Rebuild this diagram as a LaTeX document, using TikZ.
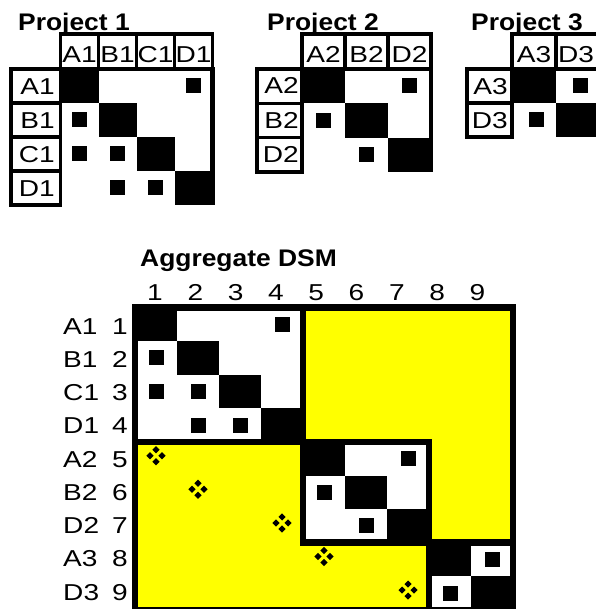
\documentclass[tikz,border=0pt]{standalone}
\usepackage{fontspec}
\setmainfont{Liberation Sans}
\usetikzlibrary{positioning}
\definecolor{dsmyellow}{RGB}{255,255,0}
\tikzset{
  lbl/.style={inner sep=0pt, xscale=1.22, font=\fontsize{23}{23}\selectfont},
  ttl/.style={inner sep=0pt, anchor=base west, xscale=1.1, font=\bfseries\fontsize{24}{24}\selectfont},
  cellbox/.style={line width=3.5pt},
  topline/.style={line width=4.5pt},
  blockbox/.style={line width=6.5pt},
}
\begin{document}
\begin{tikzpicture}[x=1pt, y=-1pt]
\useasboundingbox (0,0) rectangle (595,609);

% Project 1
\node[ttl] (p1title) at (18,31) {Project 1};
\foreach \n [count=\i from 0] in {A1,B1,C1,D1} {
  \fill (60.5+38*\i,69+34*\i) rectangle ++(38,34);
  \draw[cellbox] (60.5+38*\i,34) rectangle ++(38,35);
  \draw[cellbox] (11,69+34*\i) rectangle ++(49.5,34);
  \node[lbl, anchor=base] (p1col\n) at (79.5+38*\i,63) {\n};
  \node[lbl, anchor=base east] (p1row\n) at (55,95+34*\i) {\n};
}
\draw[topline] (11,69) -- (212.5,69) -- (212.5,205);
\foreach \r/\c in {0/3,1/0,2/0,2/1,3/1,3/2}
  \fill (72+38*\c,78.5+34*\r) rectangle ++(15,15);

% Project 2
\node[ttl] (p2title) at (267,31) {Project 2};
\foreach \n [count=\i from 0] in {A2,B2,D2} {
  \fill (302+43*\i,69+34.3*\i) rectangle ++(43,34.3);
  \draw[cellbox] (302+43*\i,34) rectangle ++(43,35);
  \draw[cellbox] (257,69+34.3*\i) rectangle ++(45,34.3);
  \node[lbl, anchor=base] (p2col\n) at (323.5+43*\i,63) {\n};
  \node[lbl, anchor=base east] (p2row\n) at (299,94+34.3*\i) {\n};
}
\draw[topline] (257,69) -- (431,69) -- (431,172);
\foreach \r/\c in {0/2,1/0,2/1}
  \fill (316+43*\c,78.5+34.3*\r) rectangle ++(15,15);

% Project 3
\node[ttl] (p3title) at (471,31) {Project 3};
\foreach \n [count=\i from 0] in {A3,D3} {
  \fill (512+44*\i,69+34*\i) rectangle ++(44,34);
  \draw[cellbox] (512+44*\i,34) rectangle ++(44,35);
  \draw[cellbox] (467,69+34*\i) rectangle ++(45,34);
  \node[lbl, anchor=base] (p3col\n) at (534+42*\i,63) {\n};
  \node[lbl, anchor=base east] (p3row\n) at (508,95+34*\i) {\n};
}
\draw[topline] (467,69) -- (600,69) -- (600,137);
\foreach \r/\c in {0/1,1/0}
  \fill (529+44*\c,78.5+34*\r) rectangle ++(15,15);

% Aggregate DSM
\node[ttl] (aggtitle) at (140,266) {Aggregate DSM};
\foreach \k in {1,...,9}
  \node[lbl, anchor=base] (col\k) at (114.7+40.3*\k,300) {\k};
\foreach \n [count=\k] in {A1,B1,C1,D1,A2,B2,D2,A3,D3} {
  \node[lbl, anchor=base west] (row\n) at (63,300.75+33.25*\k) {\n};
  \node[lbl, anchor=base east] (num\k) at (128,300.75+33.25*\k) {\k};
}
\fill[dsmyellow] (135,307.5) rectangle (513,610.5);
\fill[white] (135,307.5) rectangle (303,441.9);
\fill[white] (303,441.9) rectangle (429,542.7);
\fill[white] (429,542.7) rectangle (513,610.5);
\foreach \k in {0,...,8}
  \fill (135+42*\k,307.5+33.6*\k) rectangle ++(42,33.6);
\foreach \r/\c in {0/3,1/0,2/0,2/1,3/1,3/2,4/6,5/4,6/5,7/8,8/7}
  \fill (148.5+42*\c,316.8+33.6*\r) rectangle ++(15,15);
% dependency marks between projects
\foreach \r/\c in {4/0,5/1,6/3,7/4,8/6}
  \foreach \dx/\dy in {0/-6,-6/0,6/0,0/6}
    \fill ({156+42*\c+(\dx)},{317.7+33.6*\r+(\dy)}) -- ++(3.6,3.6) -- ++(-3.6,3.6) -- ++(-3.6,-3.6) -- cycle;
\draw[blockbox] (135,307.5) rectangle (303,441.9);
\draw[blockbox] (303,441.9) rectangle (429,542.7);
\draw[blockbox] (429,542.7) rectangle (513,610.5);
\draw[blockbox] (135,307.5) rectangle (513,610.5);
\end{tikzpicture}
\end{document}
